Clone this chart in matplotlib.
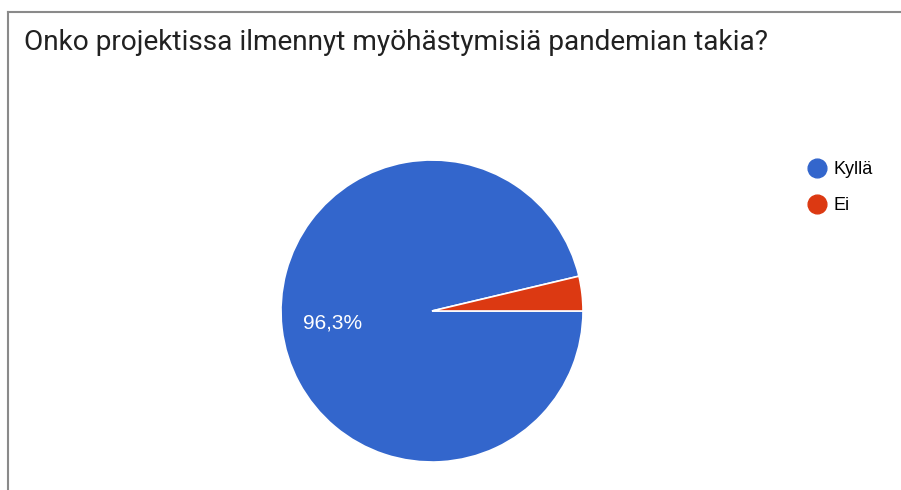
import matplotlib
matplotlib.use('Agg')
import matplotlib.pyplot as plt
from matplotlib.lines import Line2D

title = 'Onko projektissa ilmennyt myöhästymisiä pandemian takia?'
labels = ['Kyllä', 'Ei']
counts = [26, 1]
colors = ['#3366CC', '#DC3912']

plt.rcParams['font.family'] = ['Roboto', 'DejaVu Sans']
chart_font = ['Liberation Sans', 'DejaVu Sans']

W, H = 901, 490
fig = plt.figure(figsize=(W / 100, H / 100), dpi=100)

# frame lines (top and left, like the cropped screenshot)
fig.add_artist(Line2D([8 / W, 8 / W], [0, 1 - 12 / H], color='#8a8a8a', lw=1.5))
fig.add_artist(Line2D([8 / W, 1], [1 - 12 / H, 1 - 12 / H], color='#8a8a8a', lw=1.5))

fig.text(24 / W, 1 - 43 / H, title, fontsize=20.2, color='#212121', va='center', ha='left')

# pie
cx, cy, r = 432, 311, 151
ax = fig.add_axes([(cx - r) / W, (H - cy - r) / H, 2 * r / W, 2 * r / H])
wedges, texts, autotexts = ax.pie(counts, colors=colors, startangle=0, counterclock=False,
                                  autopct=lambda p: f'{p:.1f}%'.replace('.', ',') if p > 5 else '',
                                  pctdistance=0.665,
                                  wedgeprops=dict(edgecolor='white', linewidth=1.2),
                                  textprops=dict(color='white', fontsize=15, family=chart_font))
ax.set_xlim(-1, 1)
ax.set_ylim(-1, 1)
ax.set_aspect('equal')
ax.axis('off')

handles = [Line2D([], [], marker='o', linestyle='', markersize=13.5, color=c) for c in colors]
fig.legend(handles, labels, loc='upper left', bbox_to_anchor=(806 / W, 1 - 161 / H),
           frameon=False, prop=dict(family=chart_font, size=13), handletextpad=0.35,
           labelspacing=1.05, handlelength=1.2, borderpad=0, borderaxespad=0)

fig.savefig('out.png', dpi=100, facecolor='white')
